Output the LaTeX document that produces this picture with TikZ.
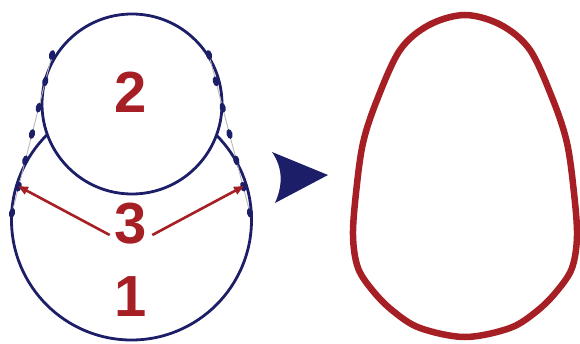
\documentclass[tikz,border=0pt]{standalone}
\usepackage{fontspec}
\setmainfont{Liberation Sans}
\usetikzlibrary{arrows.meta,calc,shapes.geometric}
\definecolor{navy}{RGB}{28,30,104}
\definecolor{hullred}{RGB}{166,31,36}

\begin{document}
\begin{tikzpicture}[x=1pt, y=1pt,
    ring/.style={navy, line width=2.8pt},
    knot/.style={ellipse, fill=navy, inner sep=0pt, minimum width=6pt, minimum height=10pt},
    tangent/.style={gray!55, line width=0.9pt},
    pointer/.style={hullred, line width=2.6pt, -{Triangle[length=10pt,width=8pt]}},
    digit/.style={hullred, inner sep=0pt, font=\bfseries\fontsize{58}{58}\selectfont}]
  \useasboundingbox (0,0) rectangle (580,343);

  % Circle 2 on top, circle 1 only where it is outside circle 2
  \coordinate (c2) at (132,239);
  \coordinate (c1) at (131.5,123);
  \draw[ring] (c2) circle (90);
  \begin{scope}[even odd rule]
    \clip (0,0) rectangle (580,343) (c2) circle (90);
    \draw[ring] (c1) circle (120);
  \end{scope}

  % Tangent lines with knots
  \coordinate (tl) at (52,288);
  \coordinate (bl) at (12,130);
  \coordinate (tr) at (209,288);
  \coordinate (br) at (250,130);
  \draw[tangent] (tl) -- (bl);
  \draw[tangent] (tr) -- (br);
  \foreach \t in {0,...,6} {
    \node[knot, rotate=-14] (kl-\t) at ($(tl)!\t/6!(bl)$) {};
    \node[knot, rotate=14] (kr-\t) at ($(tr)!\t/6!(br)$) {};
  }

  % Labels
  \node[digit] (two) at (131,251) {2};
  \node[digit] (three) at (131,119) {3};
  \node[digit] (one) at (131,46) {1};

  % Arrows from 3
  \coordinate (tipl) at (18,157);
  \coordinate (tipr) at (244,157);
  \draw[pointer] ([xshift=-5pt,yshift=-11pt]three.west) -- (tipl);
  \draw[pointer] ([xshift=5pt,yshift=-11pt]three.east) -- (tipr);

  % Middle arrowhead
  \fill[navy] (272,191) -- (328,168) -- (275,140) .. controls (283,158) and (283,175) .. cycle;

  % Resulting hull
  \draw[hullred, line width=6.5pt] plot[smooth cycle, tension=0.55] coordinates {
    (465,328) (501,318) (530,293) (553,243) (567,200) (574,150) (577,107)
    (572,75) (557,52) (537,32) (510,15) (465,6)
    (420,15) (393,32) (373,52) (358,75) (353,107) (356,150)
    (363,200) (377,243) (400,293) (429,318)};
\end{tikzpicture}
\end{document}
